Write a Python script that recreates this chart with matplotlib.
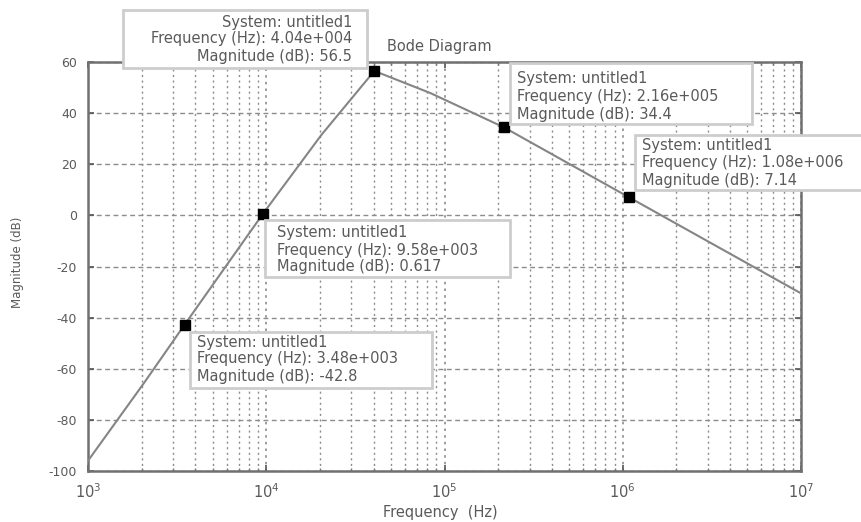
import matplotlib
matplotlib.use('Agg')
import matplotlib.pyplot as plt
from matplotlib.patches import Rectangle
from matplotlib.ticker import FixedLocator, NullFormatter

# ---------------- data ----------------
freq_hz = [1e3, 2.06e3, 3.48e3, 9.58e3, 2.04e4, 4.04e4, 8.3e4, 2.16e5, 1.08e6, 1e7]
mag_db = [-96.0, -65.6, -42.8, 0.617, 31.5, 56.5, 47.9, 34.4, 7.14, -30.5]

tip_freq = [4.04e4, 2.16e5, 1.08e6, 9.58e3, 3.48e3]
tip_mag = [56.5, 34.4, 7.14, 0.617, -42.8]
tip_freq_text = ['4.04e+004', '2.16e+005', '1.08e+006', '9.58e+003', '3.48e+003']
tip_mag_text = ['56.5', '34.4', '7.14', '0.617', '-42.8']
system_name = 'untitled1'

y_ticks = [-100, -80, -60, -40, -20, 0, 20, 40, 60]
y_tick_labels = ['-100', '-80', '-60', '-40', '-20', '0', '20', '40', '60']
x_ticks = [1e3, 1e4, 1e5, 1e6, 1e7]
x_tick_labels = ['$10^{3}$', '$10^{4}$', '$10^{5}$', '$10^{6}$', '$10^{7}$']

title_text = 'Bode Diagram'
x_label = 'Frequency  (Hz)'
y_label = 'Magnitude (dB)'

# ---------------- layout ----------------
W, H = 862, 522
fig = plt.figure(figsize=(W / 100, H / 100), dpi=100)
fig.patch.set_facecolor('white')

def fx(x):
    return x / W

def fy(y):
    return 1 - y / H

ax = fig.add_axes([fx(88), fy(471), (801 - 88) / W, (471 - 62) / H])

TXT = '#5a5a5a'
GRID = '#8c8c8c'

ax.plot(freq_hz, mag_db, color='#858585', lw=1.5, zorder=3)
ax.plot(tip_freq, tip_mag, 's', color='black', ms=6.5, zorder=4)

ax.set_xscale('log')
ax.set_xlim(1e3, 1e7)
ax.set_ylim(-100, 60)

ax.xaxis.set_major_locator(FixedLocator(x_ticks))
ax.set_xticklabels(x_tick_labels)
minor = [m * d for d in [1e3, 1e4, 1e5, 1e6] for m in range(2, 10)]
ax.xaxis.set_minor_locator(FixedLocator(minor))
ax.xaxis.set_minor_formatter(NullFormatter())
ax.set_yticks(y_ticks)
ax.set_yticklabels(y_tick_labels)

ax.tick_params(axis='both', which='major', direction='in', length=4, width=1.2,
               colors='#555555', labelcolor=TXT, labelsize=9, top=True, right=True)
ax.tick_params(axis='x', which='minor', direction='in', length=2, width=1,
               colors='#777777', top=True)
ax.tick_params(axis='x', which='major', pad=8, labelsize=10.5)
ax.tick_params(axis='y', which='major', pad=8)

ax.grid(True, axis='y', which='major', color=GRID, lw=1.0, ls=(0, (3.5, 2.5)))
ax.grid(True, axis='x', which='major', color=GRID, lw=1.2, ls=(0, (1.5, 2.5)))
ax.grid(True, axis='x', which='minor', color=GRID, lw=1.0, ls=(0, (1.5, 2.5)))
ax.set_axisbelow(True)

for s in ax.spines.values():
    s.set_color('#707070')
    s.set_linewidth(1.8)

fig.text(fx(439), fy(46), title_text, ha='center', va='center', fontsize=10.5, color=TXT)
fig.text(fx(440), fy(512), x_label, ha='center', va='center', fontsize=10.5, color=TXT)
fig.text(fx(18), fy(262), y_label, ha='center', va='center', rotation=90, fontsize=8.5, color=TXT)

# ---------------- data tip boxes ----------------
# (left, top, right, bottom, text_x, align, line y centres) in pixels
boxes = [
    (123, 10, 367, 68, 352, 'right', [22, 39, 57]),
    (510, 63, 752, 124, 517, 'left', [78, 97, 115]),
    (635, 135, 880, 190, 642, 'left', [146, 163, 181]),
    (265, 220, 510, 277, 277, 'left', [232, 250, 267]),
    (190, 332, 432, 388, 197, 'left', [343, 359, 376]),
]

for i, (l, t, r, b, tx, al, ys) in enumerate(boxes):
    fig.add_artist(Rectangle((fx(l), fy(b)), (r - l) / W, (b - t) / H,
                             transform=fig.transFigure, facecolor='white',
                             edgecolor='#cdcdcd', lw=2.0, zorder=5))
    lines = ['System: ' + system_name,
             'Frequency (Hz): ' + tip_freq_text[i],
             'Magnitude (dB): ' + tip_mag_text[i]]
    for line, yy in zip(lines, ys):
        fig.text(fx(tx), fy(yy), line, ha=al, va='center', fontsize=10.5,
                 color=TXT, zorder=6)

fig.savefig('out.png', dpi=100, facecolor='white')
